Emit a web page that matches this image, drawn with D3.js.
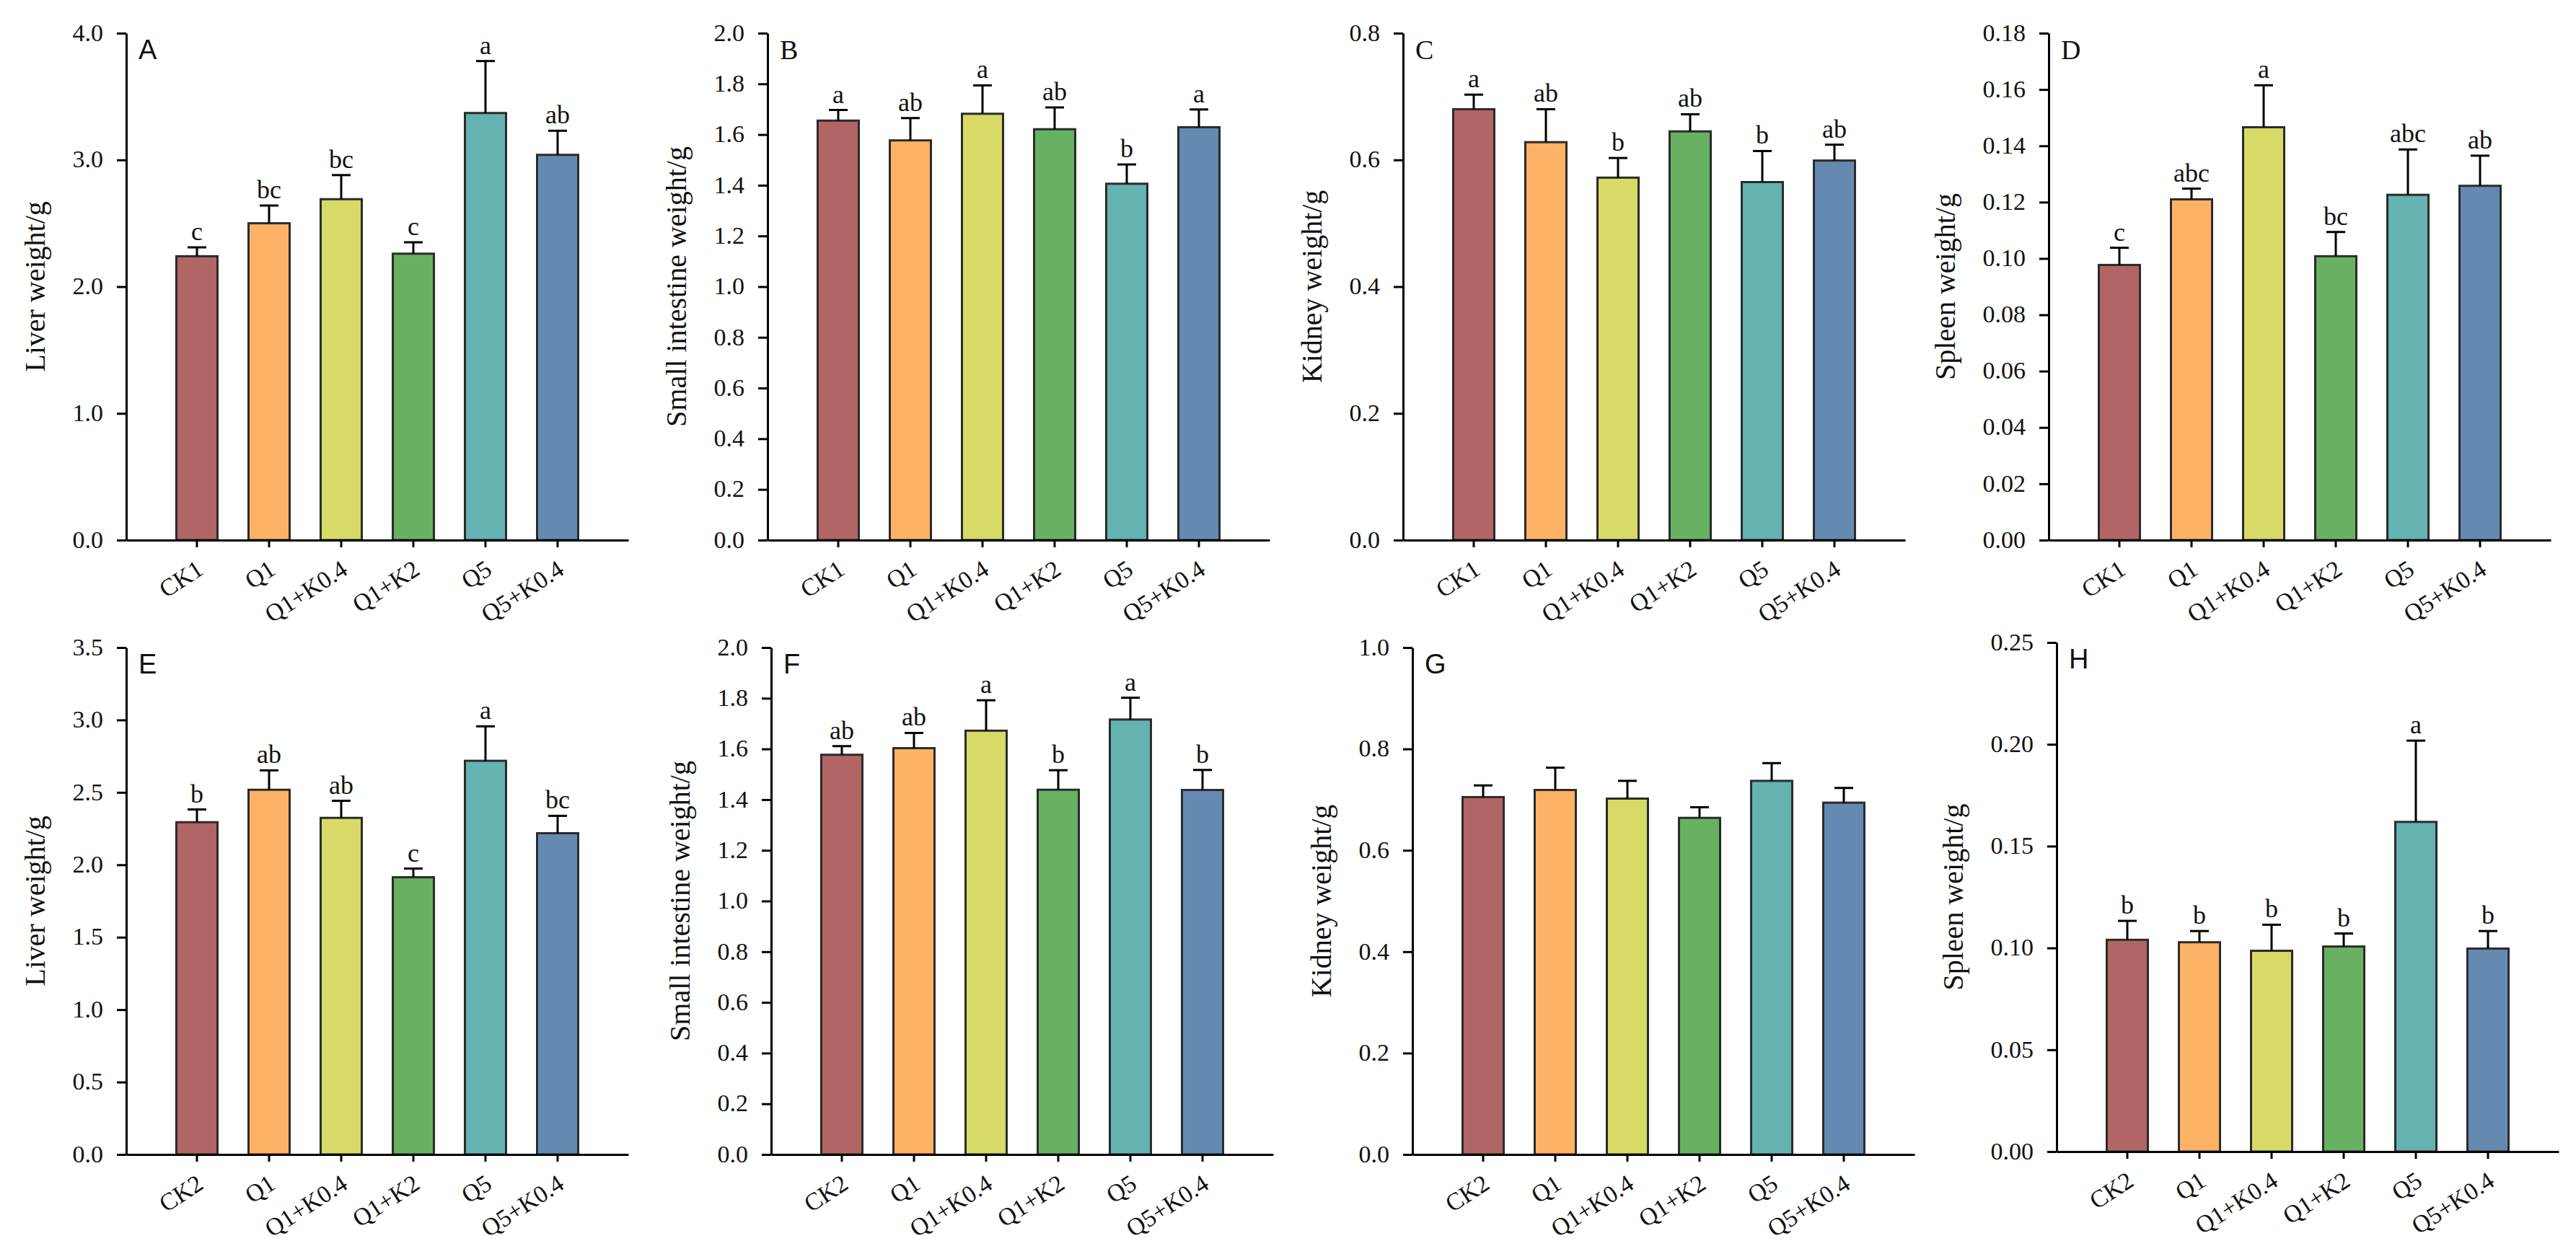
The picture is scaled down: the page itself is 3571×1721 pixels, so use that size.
<!DOCTYPE html>
<html>
<head>
<meta charset="utf-8">
<script src="https://cdn.jsdelivr.net/npm/d3@7"></script>
<style>
  body { margin: 0; background: #fff; }
  svg { display: block; }
</style>
</head>
<body>
<div id="chart"></div>
<script>
// groups on the x axis (top row uses CK1, bottom row CK2)
const groupsTop = ["CK1", "Q1", "Q1+K0.4", "Q1+K2", "Q5", "Q5+K0.4"];
const groupsBottom = ["CK2", "Q1", "Q1+K0.4", "Q1+K2", "Q5", "Q5+K0.4"];

const panelLetters = ["A", "B", "C", "D", "E", "F", "G", "H"];
const yTitles = [
  "Liver weight/g", "Small intestine weight/g", "Kidney weight/g", "Spleen weight/g",
  "Liver weight/g", "Small intestine weight/g", "Kidney weight/g", "Spleen weight/g"
];
const yMax = [4.0, 2.0, 0.8, 0.18, 3.5, 2.0, 1.0, 0.25];
const yStep = [1.0, 0.2, 0.2, 0.02, 0.5, 0.2, 0.2, 0.05];

// mean values per panel (A..H)
const means = [
  [2.24, 2.50, 2.69, 2.26, 3.37, 3.04],
  [1.655, 1.577, 1.682, 1.621, 1.406, 1.629],
  [0.680, 0.628, 0.572, 0.645, 0.565, 0.599],
  [0.0977, 0.1210, 0.1466, 0.1008, 0.1226, 0.1258],
  [2.294, 2.518, 2.324, 1.914, 2.718, 2.218],
  [1.577, 1.603, 1.672, 1.439, 1.716, 1.438],
  [0.705, 0.719, 0.702, 0.664, 0.737, 0.694],
  [0.1040, 0.1028, 0.0986, 0.1007, 0.1619, 0.0997]
];
// standard errors (upper error bar only)
const errors = [
  [0.07, 0.14, 0.19, 0.09, 0.41, 0.19],
  [0.042, 0.088, 0.112, 0.086, 0.076, 0.070],
  [0.023, 0.052, 0.031, 0.027, 0.049, 0.025],
  [0.0061, 0.0038, 0.0149, 0.0086, 0.0161, 0.0107],
  [0.088, 0.134, 0.118, 0.060, 0.238, 0.120],
  [0.034, 0.060, 0.120, 0.077, 0.086, 0.079],
  [0.023, 0.044, 0.035, 0.021, 0.035, 0.029],
  [0.0093, 0.0055, 0.0128, 0.0064, 0.0399, 0.0086]
];
// significance letters
const letters = [
  ["c", "bc", "bc", "c", "a", "ab"],
  ["a", "ab", "a", "ab", "b", "a"],
  ["a", "ab", "b", "ab", "b", "ab"],
  ["c", "abc", "a", "bc", "abc", "ab"],
  ["b", "ab", "ab", "c", "a", "bc"],
  ["ab", "ab", "a", "b", "a", "b"],
  ["", "", "", "", "", ""],
  ["b", "b", "b", "b", "a", "b"]
];

// layout
const width = 3571, height = 1721;
const panelLeft = [175, 1064, 1945, 2840, 175, 1069, 1958, 2851];
const panelTop = [46, 46, 46, 46, 898, 898, 898, 891];
const panelBase = [749, 749, 749, 749, 1601, 1601, 1601, 1597];
const axisLen = 696;
const colors = ["#b16564", "#fdb265", "#d7da66", "#68b163", "#64b2b2", "#658ab1"];
const serif = "'Liberation Serif', 'Times New Roman', serif";
const sans = "'Liberation Sans', Arial, sans-serif";

const svg = d3
  .select("#chart")
  .append("svg")
  .attr("width", width)
  .attr("height", height)
  .attr("viewBox", [0, 0, width, height]);

svg.append("rect").attr("width", width).attr("height", height).attr("fill", "#fff");

panelLetters.forEach((id, p) => {
  const groups = p < 4 ? groupsTop : groupsBottom;
  const innerHeight = panelBase[p] - panelTop[p];

  const g = svg
    .append("g")
    .attr("transform", `translate(${panelLeft[p]},${panelTop[p]})`);

  // escalas
  const xScale = d3
    .scaleBand()
    .domain(groups)
    .range([0, axisLen])
    .paddingInner(0.43)
    .paddingOuter(0.695);

  const yScale = d3.scaleLinear().domain([0, yMax[p]]).range([innerHeight, 0]);

  const nTicks = Math.round(yMax[p] / yStep[p]);
  const ticks = d3.range(0, nTicks + 1).map((i) => i * yStep[p]);
  const fmt = d3.format(yStep[p] < 0.1 ? ".2f" : ".1f");

  const rows = groups.map((k, i) => ({
    key: k,
    mean: means[p][i],
    err: errors[p][i],
    letter: letters[p][i],
    color: colors[i]
  }));

  // barras
  g.selectAll("rect.bar")
    .data(rows)
    .enter()
    .append("rect")
    .attr("class", "bar")
    .attr("x", (d) => xScale(d.key))
    .attr("y", (d) => yScale(d.mean))
    .attr("width", xScale.bandwidth())
    .attr("height", (d) => yScale(0) - yScale(d.mean))
    .attr("fill", (d) => d.color)
    .attr("stroke", "#2b2b2b")
    .attr("stroke-width", 3);

  // barras de error
  const cx = (d) => xScale(d.key) + xScale.bandwidth() / 2;
  g.selectAll("line.err")
    .data(rows)
    .enter()
    .append("line")
    .attr("class", "err")
    .attr("x1", cx)
    .attr("x2", cx)
    .attr("y1", (d) => yScale(d.mean))
    .attr("y2", (d) => yScale(d.mean + d.err))
    .attr("stroke", "#000")
    .attr("stroke-width", 3);

  g.selectAll("line.cap")
    .data(rows)
    .enter()
    .append("line")
    .attr("class", "cap")
    .attr("x1", (d) => cx(d) - 13)
    .attr("x2", (d) => cx(d) + 13)
    .attr("y1", (d) => yScale(d.mean + d.err))
    .attr("y2", (d) => yScale(d.mean + d.err))
    .attr("stroke", "#000")
    .attr("stroke-width", 3);

  // letras de significancia
  g.selectAll("text.sig")
    .data(rows)
    .enter()
    .append("text")
    .attr("class", "sig")
    .attr("x", cx)
    .attr("y", (d) => yScale(d.mean + d.err) - 10)
    .attr("text-anchor", "middle")
    .style("font-family", serif)
    .style("font-size", "36px")
    .attr("fill", "#111")
    .text((d) => d.letter);

  // eje Y
  const yAxis = d3
    .axisLeft(yScale)
    .tickValues(ticks)
    .tickFormat(fmt)
    .tickSize(13)
    .tickSizeOuter(0)
    .tickPadding(19);

  const yG = g.append("g").call(yAxis);
  yG.selectAll("path, line").attr("stroke", "#000").attr("stroke-width", 3);
  yG.selectAll("text")
    .style("font-family", serif)
    .style("font-size", "34px")
    .attr("fill", "#111")
    .attr("dy", "0.3em");

  // eje X
  const xAxis = d3.axisBottom(xScale).tickSize(10).tickSizeOuter(0);
  const xG = g.append("g").attr("transform", `translate(0,${innerHeight})`).call(xAxis);
  xG.selectAll("path, line").attr("stroke", "#000").attr("stroke-width", 3);
  xG.selectAll("text")
    .attr("x", 0)
    .attr("y", 0)
    .attr("dy", 0)
    .attr("text-anchor", "end")
    .attr("transform", "translate(11,46) rotate(-33)")
    .style("font-family", serif)
    .style("font-size", "34px")
    .attr("fill", "#111");

  // titulo del eje Y
  const titleDx = yStep[p] < 0.1 ? -130 : -113;
  g.append("text")
    .attr("transform", `translate(${titleDx},${innerHeight / 2}) rotate(-90)`)
    .attr("text-anchor", "middle")
    .style("font-family", serif)
    .style("font-size", "40px")
    .attr("fill", "#111")
    .text(yTitles[p]);

  // letra del panel
  g.append("text")
    .attr("x", 17)
    .attr("y", 36)
    .style("font-family", p >= 1 && p <= 3 ? serif : sans)
    .style("font-size", "38px")
    .attr("fill", "#111")
    .text(id);
});
</script>
</body>
</html>
